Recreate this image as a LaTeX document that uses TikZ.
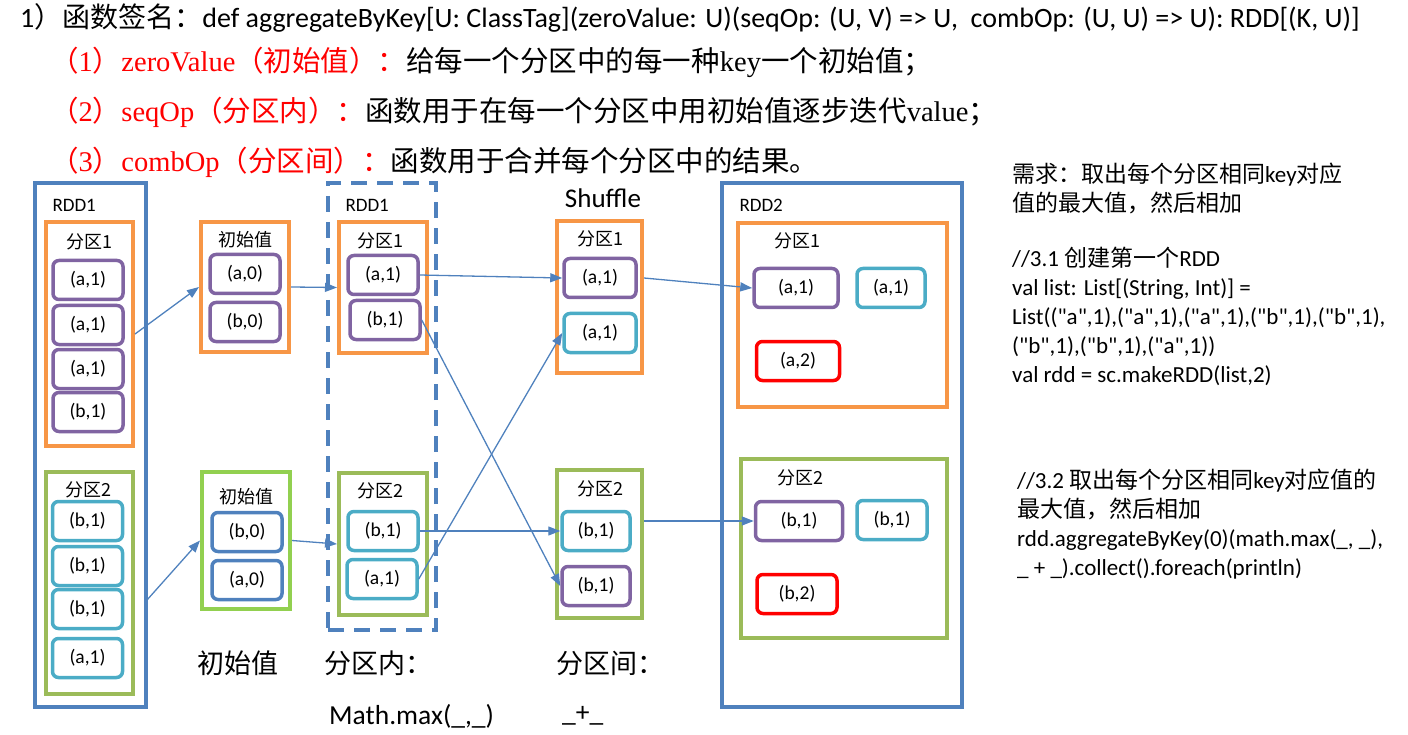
\documentclass[tikz,border=0pt]{standalone}
\usepackage{fontspec}
\setmainfont{Carlito}
\newfontfamily\cjk{Noto Sans CJK SC}
\newfontfamily\serifen{Liberation Serif}
\newfontfamily\daima{Carlito}
\usetikzlibrary{arrows.meta}
\definecolor{lanse}{HTML}{4F81BD}
\definecolor{chengse}{HTML}{F79646}
\definecolor{zise}{HTML}{8064A2}
\definecolor{qingse}{HTML}{4BACC6}
\definecolor{lvse}{HTML}{9BBB59}
\definecolor{qianlv}{HTML}{92D050}
\definecolor{hongse}{HTML}{FF0000}
\tikzset{
	kuang/.style={draw=#1,line width=4,inner sep=0},
	kv/.style={draw=#1,line width=3.5,rounded corners=6,minimum width=70,minimum height=39,inner sep=0,font=\fontsize{19.5}{19.5}\selectfont},
	fq/.style={font=\cjk\fontsize{18}{18}\selectfont},
	jt/.style={draw=lanse,line width=1.3,-{Triangle[length=12,width=9]}},
	daimakuai/.style={anchor=north west,inner sep=0,align=left,font=\daima\fontsize{23}{29}\selectfont},
}
\begin{document}
\begin{tikzpicture}[x=1pt,y=-1pt]
	\useasboundingbox (0,0) rectangle (1408,735);
	% 标题
	\node[anchor=base west,inner sep=0,font=\fontsize{28}{28}\selectfont] (t0) at (20,28)
		{1{\cjk ）函数签名：}def aggregateByKey[U: ClassTag](zeroValue: U)(seqOp: (U, V) => U,\ \ combOp: (U, U) => U): RDD[(K, U)]};
	\node[anchor=base west,inner sep=0,font=\fontsize{28.5}{28.5}\selectfont\serifen] (t1) at (50,72)
		{\textcolor{red}{{\cjk （}1{\cjk ）}zeroValue{\cjk （初始值）：}}{\cjk 给每一个分区中的每一种}key{\cjk 一个初始值；}};
	\node[anchor=base west,inner sep=0,font=\fontsize{28.5}{28.5}\selectfont\serifen] (t2) at (50,122)
		{\textcolor{red}{{\cjk （}2{\cjk ）}seqOp{\cjk （分区内）：}}{\cjk 函数用于在每一个分区中用初始值逐步迭代}value{\cjk ；}};
	\node[anchor=base west,inner sep=0,font=\fontsize{28.5}{28.5}\selectfont\serifen] (t3) at (50,172)
		{\textcolor{red}{{\cjk （}3{\cjk ）}combOp{\cjk （分区间）：}}{\cjk 函数用于合并每个分区中的结果。}};
	% RDD1
	\node[kuang=lanse,minimum width=111,minimum height=524] (rdd1) at (90.5,445) {};
	\node[anchor=west,font=\fontsize{19}{19}\selectfont] (rdd1t) at (49,205) {RDD1};
	\node[kuang=chengse,minimum width=87,minimum height=224] (p1) at (89.5,334) {};
	\node[fq] (p1t) at (89,242) {分区1};
	\foreach \k/\y [count=\i] in {a/280,a/325,a/369,b/412}
		\node[kv=zise] (p1i\i) at (88,\y) {(\k,1)};
	\node[kuang=lvse,minimum width=87,minimum height=222] (p2) at (89.5,583) {};
	\node[fq] (p2t) at (88,490) {分区2};
	\foreach \k/\y [count=\i] in {b/521,b/566,b/609,a/658}
		\node[kv=qingse] (p2i\i) at (87.5,\y) {(\k,1)};
	% 初始值
	\node[kuang=chengse,minimum width=88,minimum height=130] (c1) at (245,287) {};
	\node[fq] (c1t) at (245,240) {初始值};
	\node[kv=zise] (c1i1) at (245,274) {(a,0)};
	\node[kv=zise] (c1i2) at (245,322) {(b,0)};
	\node[kuang=qianlv,minimum width=88,minimum height=137] (c2) at (246,540.5) {};
	\node[fq] (c2t) at (246,497) {初始值};
	\node[kv=lanse] (c2i1) at (247,532) {(b,0)};
	\node[kv=lanse] (c2i2) at (247,580) {(a,0)};
	% 分区内
	\node[kuang=lanse,dashed,dash pattern=on 16 off 10,minimum width=108,minimum height=447] (rdd1b) at (382,406.5) {};
	\node[anchor=west,font=\fontsize{19}{19}\selectfont] (rdd1bt) at (342,205) {RDD1};
	\node[kuang=chengse,minimum width=88,minimum height=131] (q1) at (383,287.5) {};
	\node[fq] (q1t) at (380,241) {分区1};
	\node[kv=zise] (q1i1) at (383,275) {(a,1)};
	\node[kv=zise] (q1i2) at (385,320) {(b,1)};
	\node[kuang=lvse,minimum width=88,minimum height=142] (q2) at (383,544) {};
	\node[fq] (q2t) at (380,491) {分区2};
	\node[kv=qingse] (q2i1) at (383,531) {(b,1)};
	\node[kv=qingse] (q2i2) at (382,579) {(a,1)};
	% Shuffle
	\node[font=\fontsize{27}{27}\selectfont] (sh) at (603,198) {Shuffle};
	\node[kuang=chengse,minimum width=85,minimum height=152] (s1) at (599.5,297) {};
	\node[fq] (s1t) at (600,239) {分区1};
	\node[kv=zise,minimum width=72] (s1i1) at (600,278) {(a,1)};
	\node[kv=qingse,minimum width=72] (s1i2) at (600,333) {(a,1)};
	\node[kuang=lvse,minimum width=85,minimum height=148] (s2) at (599.5,544) {};
	\node[fq] (s2t) at (600,489) {分区2};
	\node[kv=qingse,minimum width=68] (s2i1) at (596,531) {(b,1)};
	\node[kv=zise,minimum width=68] (s2i2) at (596,586) {(b,1)};
	% RDD2
	\node[kuang=lanse,minimum width=240,minimum height=524] (rdd2) at (842,445) {};
	\node[anchor=west,font=\fontsize{19}{19}\selectfont] (rdd2t) at (736,205) {RDD2};
	\node[kuang=chengse,minimum width=209,minimum height=184] (r1) at (842.5,315) {};
	\node[fq] (r1t) at (797,241) {分区1};
	\node[kv=zise,minimum width=84] (r1i1) at (796,288) {(a,1)};
	\node[kv=qingse,minimum width=68] (r1i2) at (891,288) {(a,1)};
	\node[kv=hongse,minimum width=83] (r1i3) at (798,361) {(a,2)};
	\node[kuang=lvse,minimum width=206,minimum height=179] (r2) at (844,548.5) {};
	\node[fq] (r2t) at (800,478) {分区2};
	\node[kv=zise,minimum width=87] (r2i1) at (799,521) {(b,1)};
	\node[kv=qingse,minimum width=70] (r2i2) at (892,520) {(b,1)};
	\node[kv=hongse,minimum width=80] (r2i3) at (797,594) {(b,2)};
	% 箭头
	\coordinate (o2) at (147,600);
	\draw[jt] (p1.east) -- (c1.west);
	\draw[jt] (o2) -- (c2.west);
	\draw[jt] (c1.east) -- (q1.west);
	\draw[jt] (c2.east) -- (q2.west);
	\draw[jt] (q1i1.east) -- (s1i1.west);
	\draw[jt] (q1i2.east) -- (s2i2.west);
	\draw[jt] (q2i1.east) -- (s2i1.west);
	\draw[jt] (q2i2.east) -- (s1i2.west);
	\draw[jt] (s1.east |- s1i1.east) -- (r1i1.west);
	\draw[jt] (s2.east |- r2i1.west) -- (r2i1.west);
	% 底部说明
	\node[font=\cjk\fontsize{27}{27}\selectfont] (d1) at (238,663) {初始值};
	\node[font=\cjk\fontsize{27}{27}\selectfont] (d2) at (378,663) {分区内：};
	\node[anchor=west,inner sep=0,font=\fontsize{27.5}{27.5}\selectfont] (d3) at (329,716) {Math.max(\_,\_)};
	\node[font=\cjk\fontsize{27}{27}\selectfont] (d4) at (610,663) {分区间：};
	\node[anchor=west,inner sep=0,font=\fontsize{27.5}{27.5}\selectfont] (d5) at (562,716) {\_+\_};
	% 右侧代码
	\node[daimakuai] (n1) at (1012,163)
		{{\cjk 需求：取出每个分区相同}key{\cjk 对应}\\{\cjk 值的最大值，然后相加}};
	\node[daimakuai] (n2) at (1012,247)
		{//3.1 {\cjk 创建第一个}RDD\\
		val list: List[(String, Int)] =\\
		List(("a",1),("a",1),("a",1),("b",1),("b",1),\\
		("b",1),("b",1),("a",1))\\
		val rdd = sc.makeRDD(list,2)};
	\node[daimakuai] (n3) at (1017,469)
		{//3.2 {\cjk 取出每个分区相同}key{\cjk 对应值的}\\{\cjk 最大值，然后相加}\\
		rdd.aggregateByKey(0)(math.max(\_, \_),\\
		\_ + \_).collect().foreach(println)};
\end{tikzpicture}
\end{document}
